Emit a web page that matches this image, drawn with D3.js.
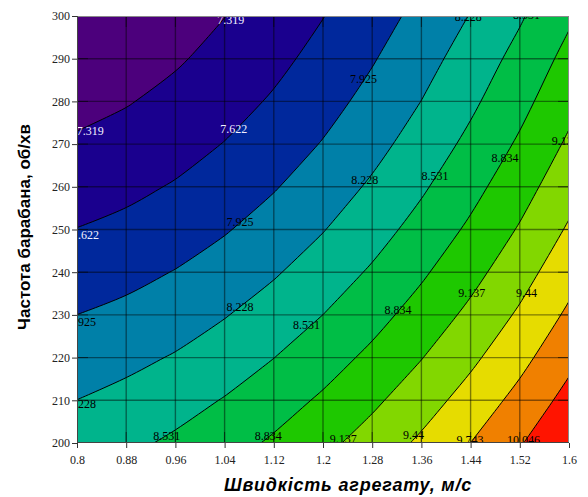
<!DOCTYPE html>
<html>
<head>
<meta charset="utf-8">
<script src="https://cdn.jsdelivr.net/npm/d3@7"></script>
<style>
  html, body { margin: 0; padding: 0; background: #ffffff; }
  svg { display: block; }
</style>
</head>
<body>
<svg id="chart" width="588" height="497"></svg>
<script>
// Unit speed, m/s (columns of the response grid)
const speeds = [0.8, 0.88, 0.96, 1.04, 1.12, 1.2, 1.28, 1.36, 1.44, 1.52, 1.6];
const speedLabels = ["0.8", "0.88", "0.96", "1.04", "1.12", "1.2", "1.28", "1.36", "1.44", "1.52", "1.6"];

// Drum rotation frequency, rpm (rows of the response grid)
const drumRates = [200, 210, 220, 230, 240, 250, 260, 270, 280, 290, 300];
const drumLabels = ["200", "210", "220", "230", "240", "250", "260", "270", "280", "290", "300"];

// Response values: one row per drum rate, one column per speed
const row200 = [8.376, 8.467, 8.581, 8.717, 8.876, 9.058, 9.263, 9.492, 9.745, 10.022, 10.330];
const row210 = [8.230, 8.312, 8.418, 8.547, 8.701, 8.878, 9.080, 9.307, 9.559, 9.836, 10.145];
const row220 = [8.079, 8.154, 8.250, 8.378, 8.528, 8.702, 8.901, 9.127, 9.378, 9.655, 9.966];
const row230 = [7.926, 7.996, 8.092, 8.213, 8.360, 8.532, 8.730, 8.954, 9.205, 9.483, 9.795];
const row240 = [7.775, 7.842, 7.936, 8.055, 8.199, 8.370, 8.567, 8.791, 9.041, 9.320, 9.632];
const row250 = [7.628, 7.694, 7.786, 7.903, 8.047, 8.216, 8.412, 8.635, 8.885, 9.163, 9.475];
const row260 = [7.488, 7.554, 7.645, 7.762, 7.905, 8.074, 8.269, 8.491, 8.740, 9.016, 9.326];
const row270 = [7.356, 7.422, 7.514, 7.631, 7.773, 7.941, 8.135, 8.355, 8.602, 8.876, 9.183];
const row280 = [7.234, 7.302, 7.395, 7.512, 7.654, 7.821, 8.013, 8.231, 8.475, 8.745, 9.048];
const row290 = [7.124, 7.194, 7.288, 7.406, 7.547, 7.713, 7.903, 8.118, 8.358, 8.624, 8.921];
const row300 = [7.027, 7.102, 7.198, 7.315, 7.454, 7.615, 7.799, 8.008, 8.240, 8.498, 8.790];
const surface = [row200, row210, row220, row230, row240, row250, row260, row270, row280, row290, row300];

// Contour levels and band fills (first colour is below the lowest level)
const levels = [7.319, 7.622, 7.925, 8.228, 8.531, 8.834, 9.137, 9.44, 9.743, 10.046];
const bandColors = ["#4c007c", "#1a008e", "#00289c", "#0080a8", "#00b48c",
                    "#00be46", "#1ec800", "#82d700", "#e6dc00", "#f08000", "#ff1400"];

// Where each level's value is written along its line: [level index, speed, drum rate]
const labelSpots = [
  [0, 1.050, 299.1], [0, 0.8215, 273.2],
  [1, 1.055, 273.5],
  [2, 1.266, 285.2], [2, 1.065, 251.9],
  [3, 1.436, 299.7], [3, 1.268, 261.7], [3, 1.065, 231.9],
  [4, 1.531, 300.2], [4, 1.382, 262.5], [4, 1.173, 227.7], [4, 0.946, 201.6],
  [5, 1.496, 266.8], [5, 1.322, 231.2], [5, 1.111, 201.6],
  [6, 1.442, 235.1], [6, 1.233, 201.1], [6, 1.594, 270.7],
  [7, 1.531, 235.1], [7, 1.347, 201.9],
  [8, 1.439, 200.7],
  [9, 1.526, 200.7]
];
// Labels cut by the left border: [level index, drum rate, leading characters hidden]
const leftEdgeSpots = [[1, 248.8, 1], [2, 228.5, 2], [3, 209.2, 2]];

const xTitle = "Швидкість агрегату, м/с";
const yTitle = "Частота барабана, об/хв";

// ---- layout ----
const width = 588, height = 497;
const plot = { left: 77, right: 569, top: 16, bottom: 443 };

const svg = d3.select("#chart");

const x = d3.scaleLinear().domain([speeds[0], speeds[speeds.length - 1]]).range([plot.left, plot.right]);
const y = d3.scaleLinear().domain([drumRates[0], drumRates[drumRates.length - 1]]).range([plot.bottom, plot.top]);

const nx = speeds.length, ny = drumRates.length;
// d3.contours places sample i at grid coordinate i + 0.5
const gx = d3.scaleLinear().domain([0.5, nx - 0.5]).range([x(speeds[0]), x(speeds[nx - 1])]);
const gy = d3.scaleLinear().domain([0.5, ny - 0.5]).range([y(drumRates[0]), y(drumRates[ny - 1])]);

const flat = [];
surface.forEach(row => row.forEach(v => flat.push(v)));

const bands = d3.contours().size([nx, ny]).thresholds(levels)(flat);

svg.append("defs").append("clipPath").attr("id", "plotClip")
  .append("rect")
  .attr("x", plot.left).attr("y", plot.top)
  .attr("width", plot.right - plot.left).attr("height", plot.bottom - plot.top);

const isEdge = p => p[0] <= 0 || p[0] >= nx || p[1] <= 0 || p[1] >= ny;
const smooth = d3.line().x(p => gx(p[0])).y(p => gy(p[1])).curve(d3.curveCatmullRom.alpha(0.5));
const smoothClosed = d3.line().x(p => gx(p[0])).y(p => gy(p[1])).curve(d3.curveCatmullRomClosed.alpha(0.5));

// Rotate a closed ring so it starts on the grid border (if it touches it)
function ringParts(ring) {
  const pts = ring.slice(0, -1);
  const start = pts.findIndex(isEdge);
  if (start < 0) return { closed: true, pts };
  return { closed: false, pts: pts.slice(start).concat(pts.slice(0, start)) };
}

// Filled outline: smooth through the inner contour points, straight along the border
function ringPath(ring) {
  const part = ringParts(ring);
  if (part.closed) return smoothClosed(part.pts);
  let d = "";
  let run = [];
  const flush = () => {
    if (run.length) { d += smooth(run).replace(/^M/, "L"); run = []; }
  };
  part.pts.forEach((p, k) => {
    if (isEdge(p)) {
      flush();
      d += (k === 0 ? "M" : "L") + gx(p[0]) + "," + gy(p[1]);
    } else {
      run.push(p);
    }
  });
  flush();
  return d + "Z";
}

// Only the contour line pieces of a ring (no border segments)
function ringRuns(ring) {
  const part = ringParts(ring);
  if (part.closed) return [smoothClosed(part.pts)];
  const runs = [];
  let run = [];
  part.pts.forEach(p => {
    if (isEdge(p)) { if (run.length > 1) runs.push(smooth(run)); run = []; }
    else run.push(p);
  });
  if (run.length > 1) runs.push(smooth(run));
  return runs;
}

const field = svg.append("g").attr("clip-path", "url(#plotClip)");

// lowest band fills the whole plot, each level paints the area above it
field.append("rect")
  .attr("x", plot.left).attr("y", plot.top)
  .attr("width", plot.right - plot.left).attr("height", plot.bottom - plot.top)
  .attr("fill", bandColors[0]);

field.selectAll("path.band")
  .data(bands)
  .join("path")
  .attr("class", "band")
  .attr("fill", (d, i) => bandColors[i + 1])
  .attr("fill-rule", "evenodd")
  .attr("d", c => c.coordinates.map(poly => poly.map(ringPath).join("")).join(""));

// grid lines
const grid = field.append("g").attr("stroke", "#000").attr("stroke-opacity", 0.45).attr("stroke-width", 1.4);
grid.selectAll("line.gx").data(speeds.slice(1, -1)).join("line")
  .attr("x1", d => x(d)).attr("x2", d => x(d))
  .attr("y1", plot.top).attr("y2", plot.bottom);
grid.selectAll("line.gy").data(drumRates.slice(1, -1)).join("line")
  .attr("y1", d => y(d)).attr("y2", d => y(d))
  .attr("x1", plot.left).attr("x2", plot.right);

// contour lines
const lines = field.append("g").attr("fill", "none").attr("stroke", "#000").attr("stroke-width", 1);
bands.forEach(c => {
  c.coordinates.forEach(poly => poly.forEach(ring => {
    ringRuns(ring).forEach(d => lines.append("path").attr("d", d));
  }));
});

// inner tick marks on all four sides
const inner = field.append("g").attr("stroke", "#000").attr("stroke-opacity", 0.55).attr("stroke-width", 1);
speeds.forEach(s => {
  inner.append("line").attr("x1", x(s)).attr("x2", x(s)).attr("y1", plot.bottom).attr("y2", plot.bottom - 11);
  inner.append("line").attr("x1", x(s)).attr("x2", x(s)).attr("y1", plot.top).attr("y2", plot.top + 11);
});
drumRates.forEach(r => {
  inner.append("line").attr("y1", y(r)).attr("y2", y(r)).attr("x1", plot.left).attr("x2", plot.left + 11);
  inner.append("line").attr("y1", y(r)).attr("y2", y(r)).attr("x1", plot.right).attr("x2", plot.right - 11);
});

// level labels
const labelFill = k => k <= 1 ? "#f2f0ff" : "#000";
const labels = field.append("g")
  .attr("font-family", "'Liberation Serif', 'DejaVu Serif', serif")
  .attr("font-size", 12);

labels.selectAll("text.mid")
  .data(labelSpots)
  .join("text")
  .attr("class", "mid")
  .attr("text-anchor", "middle")
  .attr("x", d => x(d[1]))
  .attr("y", d => y(d[2]))
  .attr("dy", "0.35em")
  .attr("fill", d => labelFill(d[0]))
  .text(d => String(levels[d[0]]));

labels.selectAll("text.edge")
  .data(leftEdgeSpots)
  .join("text")
  .attr("class", "edge")
  .attr("text-anchor", "start")
  .attr("x", plot.left + 1)
  .attr("y", d => y(d[1]))
  .attr("dy", "0.35em")
  .attr("fill", d => labelFill(d[0]))
  .text(d => String(levels[d[0]]).slice(d[2]));

// frame
svg.append("rect")
  .attr("x", plot.left + 0.5).attr("y", plot.top + 0.5)
  .attr("width", plot.right - plot.left - 1).attr("height", plot.bottom - plot.top - 1)
  .attr("fill", "none").attr("stroke", "#8a8a8a").attr("stroke-width", 1);
svg.append("line").attr("x1", plot.left + 0.5).attr("x2", plot.left + 0.5)
  .attr("y1", plot.top).attr("y2", plot.bottom + 0.5).attr("stroke", "#444");
svg.append("line").attr("x1", plot.left).attr("x2", plot.right)
  .attr("y1", plot.bottom - 0.5).attr("y2", plot.bottom - 0.5).attr("stroke", "#444");

// axes
const xAxis = d3.axisBottom(x).tickValues(speeds).tickFormat((d, i) => speedLabels[i]).tickSize(5).tickPadding(7);
const yAxis = d3.axisLeft(y).tickValues(drumRates).tickFormat((d, i) => drumLabels[i]).tickSize(5).tickPadding(2);

const gxAxis = svg.append("g").attr("transform", `translate(0,${plot.bottom})`).call(xAxis);
const gyAxis = svg.append("g").attr("transform", `translate(${plot.left},0)`).call(yAxis);
[gxAxis, gyAxis].forEach(g => {
  g.select(".domain").remove();
  g.selectAll(".tick line").attr("stroke", "#333");
  g.selectAll(".tick text")
    .attr("font-family", "'Liberation Serif', 'DejaVu Serif', serif")
    .attr("font-size", 12)
    .attr("fill", "#222");
});

// axis titles
svg.append("text")
  .attr("x", 348).attr("y", 491)
  .attr("text-anchor", "middle")
  .attr("font-family", "'Liberation Sans', Arial, sans-serif")
  .attr("font-weight", "bold").attr("font-style", "italic")
  .attr("font-size", 18)
  .attr("letter-spacing", 0.8)
  .attr("fill", "#000")
  .text(xTitle);

svg.append("text")
  .attr("transform", "translate(30,227) rotate(-90)")
  .attr("text-anchor", "middle")
  .attr("font-family", "'Liberation Sans', Arial, sans-serif")
  .attr("font-weight", "bold")
  .attr("font-size", 17)
  .attr("fill", "#000")
  .text(yTitle);
</script>
</body>
</html>
